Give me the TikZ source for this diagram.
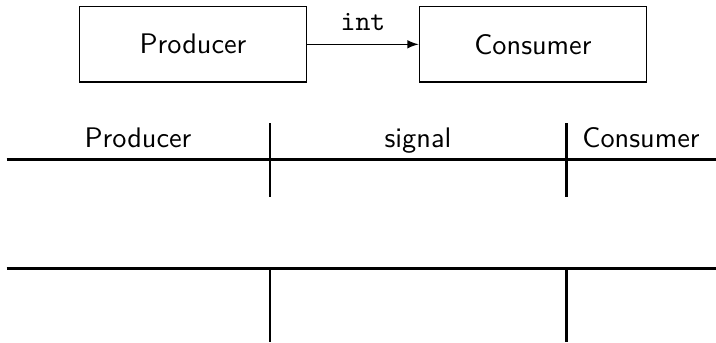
\documentclass[tikz,border=0pt]{standalone}
\usetikzlibrary{arrows}
\begin{document}
\begin{tikzpicture}[
  x=0.3534pt, y=-0.3534pt,
  font=\sffamily,
  blockbox/.style={draw, line width=0.4pt, minimum width=80.4pt, minimum height=26.6pt, inner sep=0pt},
  flow/.style={-latex, line width=0.4pt},
  rulehead/.style={line width=1.1pt},
  rulecol/.style={line width=0.75pt},
  headtext/.style={anchor=base, inner sep=0pt}
]
\useasboundingbox (0,0) rectangle (716,342);

% block diagram
\node[blockbox] (prod) at (193,44.3) {Producer};
\node[blockbox] (cons) at (532.9,44.3) {Consumer};
\draw[flow] (prod) -- node[above=1.2pt, font=\ttfamily] (lbl) {int} (cons);

% first table: header row
\node[headtext] (h1) at (138,147.3) {Producer};
\node[headtext] (h2) at (418,147.3) {signal};
\node[headtext] (h3) at (641,147.3) {Consumer};
\draw[rulehead] (6.7,159.3) -- (716,159.3);
\draw[rulecol] (270.3,123) -- (270.3,196.7);
\draw[rulecol] (566.5,123) -- (566.5,196.7);

% second table
\draw[rulehead] (6.7,268.7) -- (716,268.7);
\draw[rulecol] (270.3,268.7) -- (270.3,342);
\draw[rulecol] (566.5,268.7) -- (566.5,342);
\end{tikzpicture}
\end{document}
